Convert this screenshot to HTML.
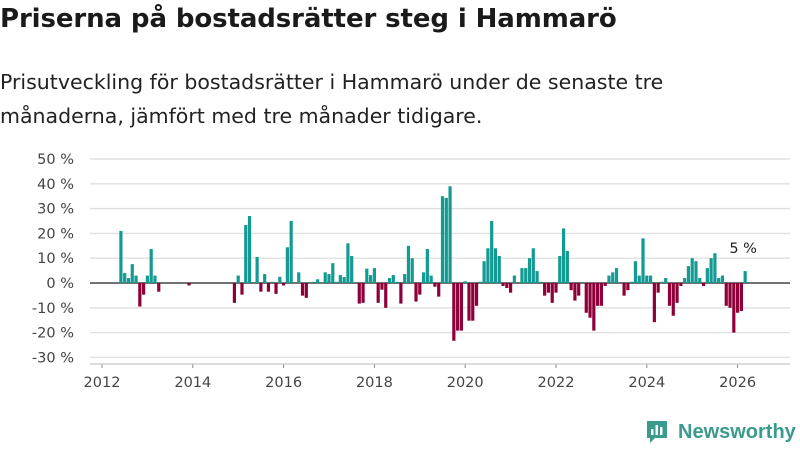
<!DOCTYPE html>
<html><head><meta charset="utf-8"><style>
body{margin:0;width:800px;height:450px;background:#fff;font-family:"DejaVu Sans",sans-serif;overflow:hidden;position:relative}
h1{position:absolute;left:0;top:4px;margin:0;font-size:26px;font-weight:bold;color:#1a1a1a;letter-spacing:-0.1px}
.sub{position:absolute;left:0;top:65px;margin:0;font-size:20.5px;line-height:34px;color:#222}
svg{position:absolute;left:0;top:0}
</style></head><body>
<h1>Priserna på bostadsrätter steg i Hammarö</h1>
<p class="sub">Prisutveckling för bostadsrätter i Hammarö under de senaste tre<br>månaderna, jämfört med tre månader tidigare.</p>
<svg id="chart" width="800" height="450"></svg>
<script>
const startYear = 2012;
const values = [0,0,0,0,0,21,4,2,7.6,3,-9.5,-4.7,3,13.7,3,-3.5,0,0,0,0,0,0,0,-1,0,0,0,0,0,0,0,0,0,0,0,
-8,3,-4.7,23.4,27,0,10.5,-3.5,3.6,-3.5,0.5,-4.4,2.5,-1,14.4,25,0,4.3,-5.1,-6,0,0.5,1.5,0,4.3,3.6,8,0.5,3.2,2.4,16,10.9,0,-8.3,-8,5.8,3.2,6,-8,-2.7,-10,2,3.2,0.5,-8.3,3.6,15,10,-7.5,-4.7,4.3,13.7,3,-1.5,-5.5,35,34.3,39,-23.3,-19.2,-19.2,0.7,-15.2,-15.2,-9.2,0.5,8.8,14,25,14,10.9,-1.2,-2,-3.9,3,0,6,6,10,14,4.8,0.5,-5.1,-3.9,-8,-3.9,10.9,22,12.9,-2.9,-7.1,-5.1,0,-12,-14,-19.2,-9.2,-9.2,-1.2,3,4.3,6,0,-5.1,-2.9,0.5,8.8,3,18,3,3,-15.8,-3.9,0.5,2,-9.2,-13.2,-8,-1.2,2,6.8,10,8.8,2,-1.2,6,10,12,2,3,-9.2,-10,-20,-12,-11.3,4.8];
const yTicks = [-30,-20,-10,0,10,20,30,40,50];
const xTicks = [2012,2014,2016,2018,2020,2022,2024,2026];
const lastLabel = "5 %";
const NS="http://www.w3.org/2000/svg";
const svg=document.getElementById('chart');
const y=v=>283-v*2.48;
const xYear=yr=>102+(yr-2012)*45.4;
const xMonth=m=>xYear(startYear)+m*45.4/12;
function mk(t,a){const e=document.createElementNS(NS,t);for(const k in a)e.setAttribute(k,a[k]);svg.appendChild(e);return e;}
yTicks.forEach(t=>{
  const l=mk('line',{x1:90,x2:790,y1:y(t),y2:y(t),stroke:t===0?'#444':'#e0e0e0','stroke-width':t===0?1.6:1.4});
  
  
  const tx=mk('text',{x:74,y:y(t)+5,'text-anchor':'end','font-size':14.5,fill:'#444','font-family':'DejaVu Sans, sans-serif'});
  tx.textContent=t+' %';
  
  
});
xTicks.forEach(t=>{
  const l=mk('line',{x1:xYear(t),x2:xYear(t),y1:364,y2:368,stroke:'#888'});
  
  
  const tx=mk('text',{x:xYear(t),y:387,'text-anchor':'middle','font-size':14.5,fill:'#444','font-family':'DejaVu Sans, sans-serif'});
  tx.textContent=t;
  
  
});
const axis=mk('line',{x1:90,x2:790,y1:364,y2:364,stroke:'#bbb'});


values.forEach((v,i)=>{
  if(v===0)return;
  const cx=xMonth(i);
  const r=mk('rect',{x:cx-1.6,width:3.2,y:Math.min(y(v),y(0)),height:Math.abs(y(v)-y(0)),fill:v>0?'#139b93':'#8e0038'});
  
  
});
const lt=mk('text',{x:xMonth(values.length-1)-2,y:y(values[values.length-1])-18,'text-anchor':'middle','font-size':14.5,fill:'#222','font-family':'DejaVu Sans, sans-serif'});
lt.textContent=lastLabel;


</script>
<div style="position:absolute;left:645px;top:419px;display:flex;align-items:center">
  <svg width="24" height="26" viewBox="0 0 24 26" style="position:static"><path d="M2 2h20v17H10l-5 5v-5H2z" fill="#3a9a8c"/><rect x="6" y="10" width="2.5" height="6" fill="#fff"/><rect x="10.5" y="6" width="2.5" height="10" fill="#fff"/><rect x="15" y="8" width="2.5" height="8" fill="#fff"/></svg>
  <span style="margin-left:9px;font-size:20px;font-weight:bold;color:#3a9a8c;font-family:'Liberation Sans',sans-serif">Newsworthy</span>
</div>
</body></html>
